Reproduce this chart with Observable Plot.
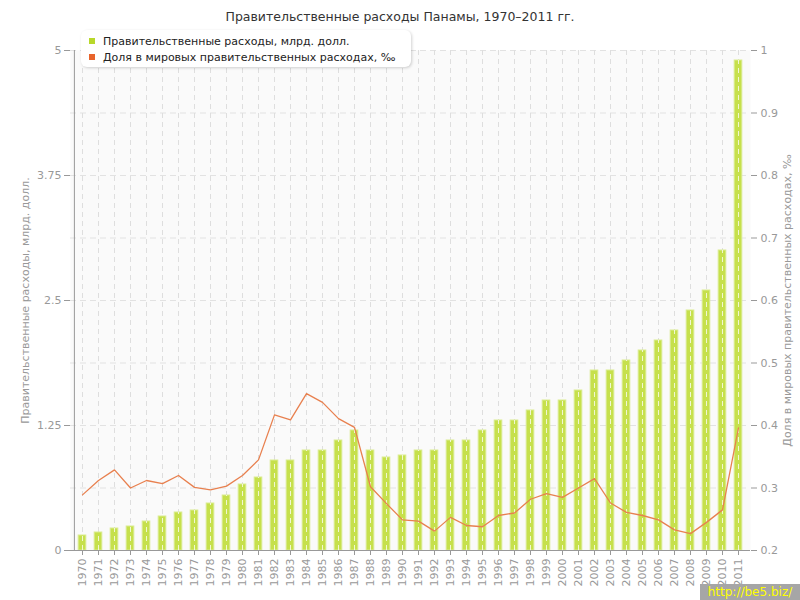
<!DOCTYPE html>
<html><head><meta charset="utf-8">
<script src="https://cdn.jsdelivr.net/npm/d3@7"></script>
<script src="https://cdn.jsdelivr.net/npm/@observablehq/plot@0.6"></script>
<style>
body{margin:0;background:#fff;font-family:"DejaVu Sans",Verdana,sans-serif;}
#wrap{position:relative;width:800px;height:600px;}
#title{position:absolute;left:0;top:9px;width:800px;text-align:center;font-size:12.5px;color:#333;}
#legend{position:absolute;left:81px;top:30px;width:330px;height:37px;background:#fff;border-radius:6px;box-shadow:1px 1px 3px rgba(0,0,0,0.18);font-size:11px;color:#222;}
.li{position:absolute;left:8px;white-space:nowrap;}
.sq{display:inline-block;width:6px;height:6px;margin-right:8px;vertical-align:1px;}
#wm{position:absolute;left:700px;top:584px;width:100px;height:16px;background:#a6a6a6;color:#ffff00;font-size:12px;line-height:16px;text-align:center;}
</style></head>
<body><div id="wrap"><div id="chart"></div>
<div id="title">Правительственные расходы Панамы, 1970–2011 гг.</div>
<div id="legend">
<div class="li" style="top:5px"><span class="sq" style="background:#b8d82a"></span>Правительственные расходы, млрд. долл.</div>
<div class="li" style="top:21px"><span class="sq" style="background:#e8642c"></span>Доля в мировых правительственных расходах, ‰</div>
</div>
<div id="wm">http://be5.biz/</div>
</div>
<script>
const years = ["1970","1971","1972","1973","1974","1975","1976","1977","1978","1979","1980","1981","1982","1983","1984","1985","1986","1987","1988","1989","1990","1991","1992","1993","1994","1995","1996","1997","1998","1999","2000","2001","2002","2003","2004","2005","2006","2007","2008","2009","2010","2011"];
const spending = [0.15,0.18,0.22,0.24,0.29,0.34,0.38,0.40,0.47,0.55,0.66,0.73,0.90,0.90,1.0,1.0,1.10,1.20,1.0,0.93,0.95,1.0,1.0,1.1,1.1,1.2,1.3,1.3,1.4,1.5,1.5,1.6,1.8,1.8,1.9,2.0,2.1,2.2,2.4,2.6,3.0,4.9];
const share = [0.289,0.312,0.329,0.300,0.312,0.307,0.320,0.301,0.297,0.303,0.320,0.345,0.417,0.409,0.451,0.437,0.411,0.397,0.302,0.275,0.249,0.247,0.231,0.253,0.240,0.238,0.256,0.260,0.282,0.291,0.285,0.300,0.315,0.276,0.261,0.256,0.249,0.233,0.227,0.245,0.265,0.396];
const leftTicks = [0,1.25,2.5,3.75,5];
const rightTicks = [0.2,0.3,0.4,0.5,0.6,0.7,0.8,0.9,1];
const rightMin = 0.2, rightMax = 1, leftMax = 5;
const toLeft = v => (v - rightMin) / (rightMax - rightMin) * leftMax;

const rows = years.map((y,i)=>({year:y, spend:spending[i], share:toLeft(share[i])}));
const gridVals = rightTicks.map(toLeft);

const chart = Plot.plot({
  width:800, height:600,
  marginTop:50, marginBottom:50, marginLeft:70, marginRight:50,
  style:{fontFamily:"DejaVu Sans, Verdana, sans-serif", fontSize:"11px", color:"#999", background:"transparent"},
  x:{type:"band", domain:years, padding:0},
  y:{domain:[0,leftMax]},
  marks:[
    Plot.frame({fill:"#fafafa", stroke:null}),
    Plot.ruleY(gridVals.slice(1), {stroke:"#e2e2e2", strokeDasharray:"6,4", strokeWidth:1}),
    Plot.ruleX(years, {x:d=>d, stroke:"#dedede", strokeDasharray:"5,4", strokeWidth:1}),
    Plot.barY(rows, {x:"year", y:"spend", fill:"#c6e04c", stroke:"#d9ec8e", strokeWidth:1, insetLeft:4.2, insetRight:4.2}),
    Plot.ruleX(rows, {x:"year", y1:0, y2:"spend", stroke:"#ffffff", strokeOpacity:0.75, strokeDasharray:"5,4", strokeWidth:1}),
    Plot.line(rows, {x:"year", y:"share", stroke:"#e8804f", strokeWidth:1.3}),
    Plot.ruleX([0], {x:()=>years[0], dx:-8.1, y1:0, y2:leftMax, stroke:"#999"}),
    Plot.ruleY([0], {stroke:"#999"}),
    Plot.ruleY([0], {y1:0, y2:leftMax, x:()=>years[years.length-1], dx:8.1, stroke:"#ddd"}),
    Plot.axisY({ticks:leftTicks, tickFormat:d=>String(d), tickSize:6, tickPadding:3, label:null, color:"#999", stroke:"#999"}),
    Plot.axisY({anchor:"right", ticks:gridVals, tickFormat:d=>String(+(d/leftMax*(rightMax-rightMin)+rightMin).toFixed(2)), tickSize:6, tickPadding:4, label:null, color:"#999", stroke:"#999"}),
    Plot.axisX({tickRotate:-90, tickSize:5, tickPadding:3, label:null, color:"#999", stroke:"#999", fontSize:11}),
    Plot.text(["Правительственные расходы, млрд. долл."], {frameAnchor:"left", textAnchor:"middle", dx:-45, rotate:-90, fill:"#999", fontSize:11}),
    Plot.text(["Доля в мировых правительственных расходах, ‰"], {frameAnchor:"right", textAnchor:"middle", dx:37, rotate:-90, fill:"#999", fontSize:11})
  ]
});
document.getElementById("chart").appendChild(chart);
</script>
</body></html>
